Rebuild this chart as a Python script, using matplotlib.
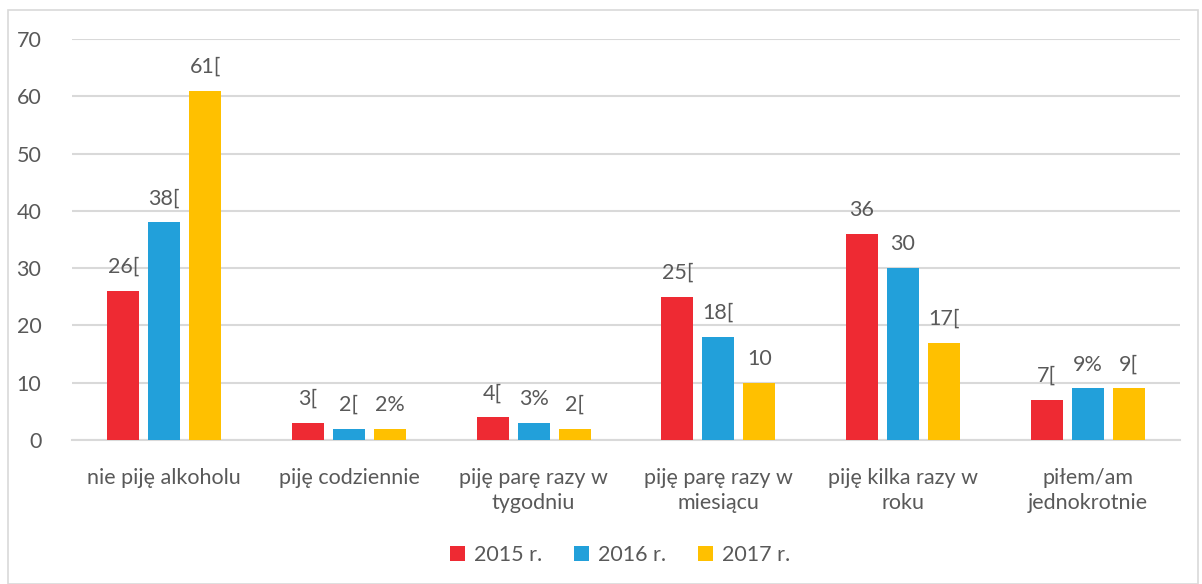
import numpy as np
import matplotlib
matplotlib.use('Agg')
import matplotlib.pyplot as plt
from matplotlib.patches import Rectangle

categories = ['nie piję alkoholu', 'piję codziennie', 'piję parę razy w\ntygodniu',
              'piję parę razy w\nmiesiącu', 'piję kilka razy w\nroku', 'piłem/am\njednokrotnie']
series = ['2015 r.', '2016 r.', '2017 r.']
v2015 = [26, 3, 4, 25, 36, 7]
v2016 = [38, 2, 3, 18, 30, 9]
v2017 = [61, 2, 2, 10, 17, 9]
lab2015 = ['26[', '3[', '4[', '25[', '36', '7[']
lab2016 = ['38[', '2[', '3%', '18[', '30', '9%']
lab2017 = ['61[', '2%', '2[', '10', '17[', '9[']
yticks = [0, 10, 20, 30, 40, 50, 60, 70]

colors = ['#EE2A33', '#22A0DA', '#FFC000']
txt = '#595959'
plt.rcParams['font.family'] = ['Lato', 'DejaVu Sans']
fs = 15.5

fig = plt.figure(figsize=(12.02, 5.84), dpi=100)
# outer chart border
fig.patches.append(Rectangle((8 / 1202, 0), 1190 / 1202, 574 / 584, transform=fig.transFigure,
                             fill=False, edgecolor='#d9d9d9', lw=1.2))
ax = fig.add_axes([72 / 1202, 1 - 440 / 584, 1108 / 1202, 401 / 584])

x = np.arange(len(categories))
w = 0.175
step = 0.222
for k, (vals, labs) in enumerate([(v2015, lab2015), (v2016, lab2016), (v2017, lab2017)]):
    pos = x + (k - 1) * step
    ax.bar(pos, vals, w, color=colors[k], label=series[k], zorder=3)
    for p, v, l in zip(pos, vals, labs):
        ax.annotate(l, (p, v), xytext=(0, 10), textcoords='offset points',
                    ha='center', va='bottom', fontsize=fs, color=txt)

ax.set_xlim(-0.5, len(categories) - 0.5)
ax.set_ylim(0, 70)
ax.set_yticks(yticks)
ax.yaxis.grid(True, color='#d9d9d9', lw=1.5, zorder=0)
ax.set_axisbelow(True)
for s in ['top', 'right', 'left']:
    ax.spines[s].set_visible(False)
ax.spines['bottom'].set_color('#d9d9d9')
ax.spines['bottom'].set_linewidth(1.5)
ax.set_xticks(x)
ax.set_xticklabels(categories, fontsize=fs, color=txt, linespacing=1.35)
ax.tick_params(axis='both', length=0, labelsize=fs, colors=txt)
ax.tick_params(axis='x', pad=20)
ax.tick_params(axis='y', pad=22)

ax.legend(loc='center', bbox_to_anchor=(0.5 - 6 / 1108, (440 - 555) / 401), ncol=3, frameon=False,
          fontsize=fs, labelcolor=txt, handlelength=0.7, handleheight=0.7,
          columnspacing=1.5, handletextpad=0.4)

fig.savefig('out.png', dpi=100)
